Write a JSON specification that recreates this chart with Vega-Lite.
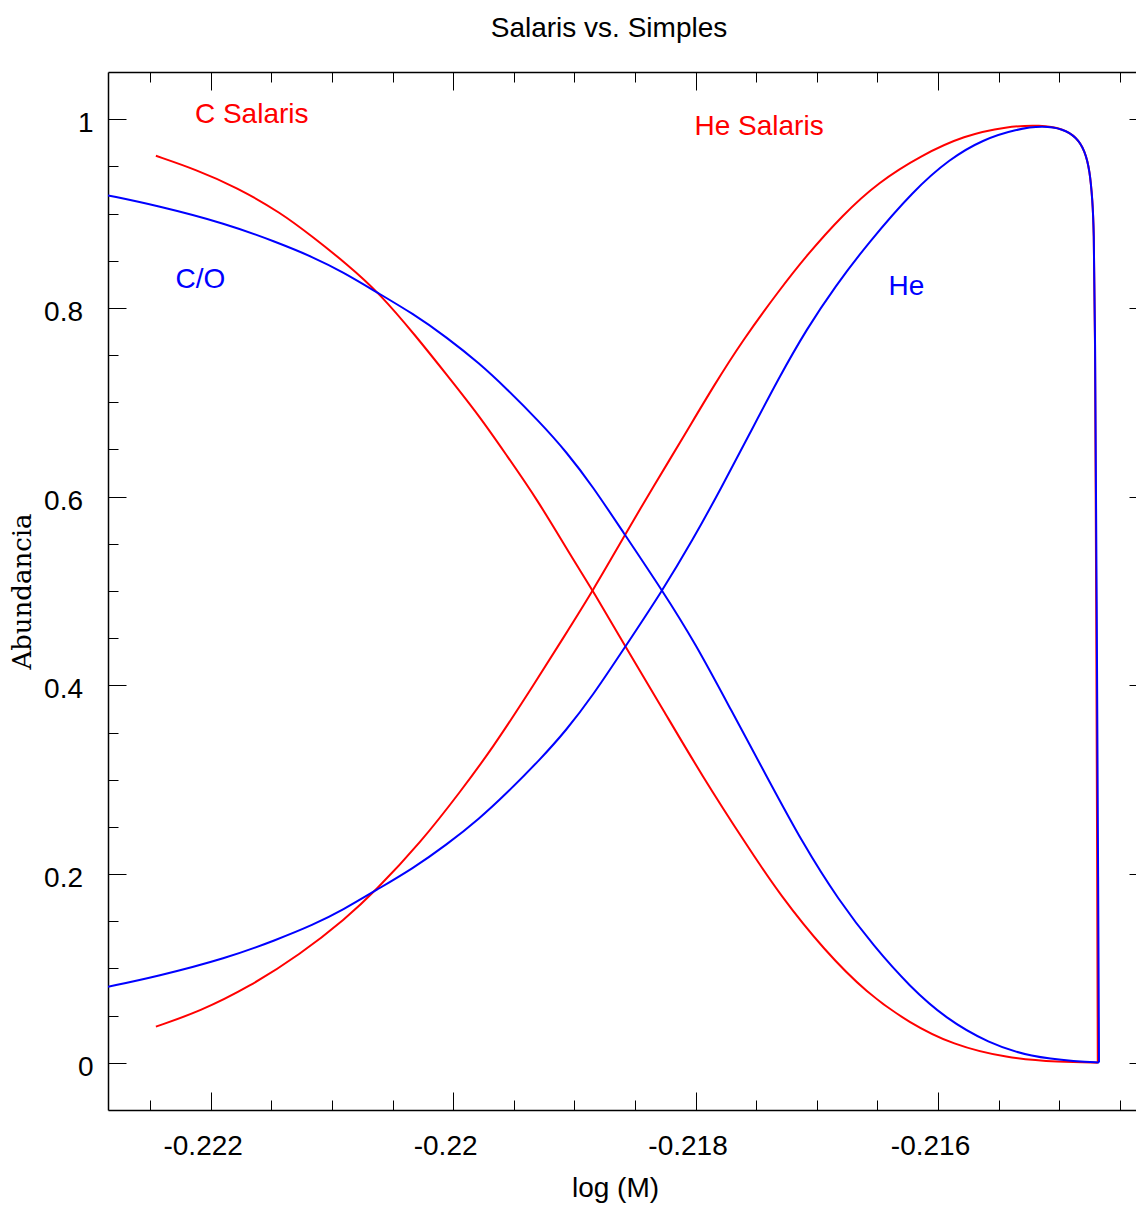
{
  "$schema": "https://vega.github.io/schema/vega-lite/v6.json",
  "width": 1039,
  "height": 1038,
  "autosize": {"type": "none"},
  "padding": {"left": 108, "top": 72, "right": -11, "bottom": 95},
  "background": "white",
  "config": {"view": {"stroke": null}, "font": "Liberation Sans"},
  "title": {"text": "Salaris vs. Simples", "fontSize": 28, "fontWeight": "normal", "font": "Liberation Sans", "color": "black", "anchor": "middle", "dx": -18.5, "offset": 7, "baseline": "alphabetic"},
  "datasets": {
    "curves": [
      {"s": "C Salaris", "m": "Salaris", "x": -0.222452, "y": 0.9612},
      {"s": "C Salaris", "m": "Salaris", "x": -0.222118, "y": 0.9464},
      {"s": "C Salaris", "m": "Salaris", "x": -0.221788, "y": 0.9280},
      {"s": "C Salaris", "m": "Salaris", "x": -0.221417, "y": 0.9005},
      {"s": "C Salaris", "m": "Salaris", "x": -0.221156, "y": 0.8750},
      {"s": "C Salaris", "m": "Salaris", "x": -0.220880, "y": 0.8469},
      {"s": "C Salaris", "m": "Salaris", "x": -0.220606, "y": 0.8155},
      {"s": "C Salaris", "m": "Salaris", "x": -0.220303, "y": 0.7695},
      {"s": "C Salaris", "m": "Salaris", "x": -0.220055, "y": 0.7295},
      {"s": "C Salaris", "m": "Salaris", "x": -0.219781, "y": 0.6850},
      {"s": "C Salaris", "m": "Salaris", "x": -0.219560, "y": 0.6440},
      {"s": "C Salaris", "m": "Salaris", "x": -0.219313, "y": 0.5985},
      {"s": "C Salaris", "m": "Salaris", "x": -0.219011, "y": 0.5335},
      {"s": "C Salaris", "m": "Salaris", "x": -0.218844, "y": 0.4998},
      {"s": "C Salaris", "m": "Salaris", "x": -0.218575, "y": 0.4402},
      {"s": "C Salaris", "m": "Salaris", "x": -0.218266, "y": 0.3738},
      {"s": "C Salaris", "m": "Salaris", "x": -0.217942, "y": 0.3032},
      {"s": "C Salaris", "m": "Salaris", "x": -0.217589, "y": 0.2327},
      {"s": "C Salaris", "m": "Salaris", "x": -0.217294, "y": 0.1761},
      {"s": "C Salaris", "m": "Salaris", "x": -0.216940, "y": 0.1197},
      {"s": "C Salaris", "m": "Salaris", "x": -0.216587, "y": 0.0738},
      {"s": "C Salaris", "m": "Salaris", "x": -0.216233, "y": 0.0420},
      {"s": "C Salaris", "m": "Salaris", "x": -0.215879, "y": 0.0191},
      {"s": "C Salaris", "m": "Salaris", "x": -0.215438, "y": 0.0050},
      {"s": "C Salaris", "m": "Salaris", "x": -0.214996, "y": 0.0007},
      {"s": "C Salaris", "m": "Salaris", "x": -0.214682, "y": 0.0002},
      {"s": "He Salaris", "m": "Salaris", "x": -0.222452, "y": 0.0384},
      {"s": "He Salaris", "m": "Salaris", "x": -0.222091, "y": 0.0543},
      {"s": "He Salaris", "m": "Salaris", "x": -0.221678, "y": 0.0808},
      {"s": "He Salaris", "m": "Salaris", "x": -0.221266, "y": 0.1144},
      {"s": "He Salaris", "m": "Salaris", "x": -0.220883, "y": 0.1532},
      {"s": "He Salaris", "m": "Salaris", "x": -0.220647, "y": 0.1814},
      {"s": "He Salaris", "m": "Salaris", "x": -0.220264, "y": 0.2340},
      {"s": "He Salaris", "m": "Salaris", "x": -0.219940, "y": 0.2874},
      {"s": "He Salaris", "m": "Salaris", "x": -0.219674, "y": 0.3337},
      {"s": "He Salaris", "m": "Salaris", "x": -0.219380, "y": 0.3915},
      {"s": "He Salaris", "m": "Salaris", "x": -0.219085, "y": 0.4516},
      {"s": "He Salaris", "m": "Salaris", "x": -0.218844, "y": 0.5009},
      {"s": "He Salaris", "m": "Salaris", "x": -0.218584, "y": 0.5591},
      {"s": "He Salaris", "m": "Salaris", "x": -0.218349, "y": 0.6103},
      {"s": "He Salaris", "m": "Salaris", "x": -0.218084, "y": 0.6668},
      {"s": "He Salaris", "m": "Salaris", "x": -0.217848, "y": 0.7180},
      {"s": "He Salaris", "m": "Salaris", "x": -0.217612, "y": 0.7656},
      {"s": "He Salaris", "m": "Salaris", "x": -0.217317, "y": 0.8175},
      {"s": "He Salaris", "m": "Salaris", "x": -0.217082, "y": 0.8560},
      {"s": "He Salaris", "m": "Salaris", "x": -0.216787, "y": 0.8985},
      {"s": "He Salaris", "m": "Salaris", "x": -0.216492, "y": 0.9332},
      {"s": "He Salaris", "m": "Salaris", "x": -0.216139, "y": 0.9616},
      {"s": "He Salaris", "m": "Salaris", "x": -0.215785, "y": 0.9827},
      {"s": "He Salaris", "m": "Salaris", "x": -0.215432, "y": 0.9923},
      {"s": "He Salaris", "m": "Salaris", "x": -0.215152, "y": 0.9939},
      {"s": "He Salaris", "m": "Salaris", "x": -0.214969, "y": 0.9898},
      {"s": "He Salaris", "m": "Salaris", "x": -0.214858, "y": 0.9809},
      {"s": "He Salaris", "m": "Salaris", "x": -0.214789, "y": 0.9669},
      {"s": "He Salaris", "m": "Salaris", "x": -0.214748, "y": 0.9457},
      {"s": "He Salaris", "m": "Salaris", "x": -0.214726, "y": 0.9139},
      {"s": "He Salaris", "m": "Salaris", "x": -0.214715, "y": 0.8856},
      {"s": "He Salaris", "m": "Salaris", "x": -0.214705, "y": 0.7974},
      {"s": "He Salaris", "m": "Salaris", "x": -0.214695, "y": 0.4903},
      {"s": "He Salaris", "m": "Salaris", "x": -0.214686, "y": 0.1726},
      {"s": "He Salaris", "m": "Salaris", "x": -0.214682, "y": 0.0002},
      {"s": "C/O", "m": "Simples", "x": -0.222847, "y": 0.9192},
      {"s": "C/O", "m": "Simples", "x": -0.222448, "y": 0.9086},
      {"s": "C/O", "m": "Simples", "x": -0.221870, "y": 0.8892},
      {"s": "C/O", "m": "Simples", "x": -0.221458, "y": 0.8697},
      {"s": "C/O", "m": "Simples", "x": -0.221156, "y": 0.8539},
      {"s": "C/O", "m": "Simples", "x": -0.220909, "y": 0.8380},
      {"s": "C/O", "m": "Simples", "x": -0.220633, "y": 0.8168},
      {"s": "C/O", "m": "Simples", "x": -0.220331, "y": 0.7939},
      {"s": "C/O", "m": "Simples", "x": -0.220055, "y": 0.7691},
      {"s": "C/O", "m": "Simples", "x": -0.219781, "y": 0.7410},
      {"s": "C/O", "m": "Simples", "x": -0.219560, "y": 0.7145},
      {"s": "C/O", "m": "Simples", "x": -0.219286, "y": 0.6791},
      {"s": "C/O", "m": "Simples", "x": -0.219065, "y": 0.6474},
      {"s": "C/O", "m": "Simples", "x": -0.218846, "y": 0.6103},
      {"s": "C/O", "m": "Simples", "x": -0.218626, "y": 0.5679},
      {"s": "C/O", "m": "Simples", "x": -0.218272, "y": 0.5002},
      {"s": "C/O", "m": "Simples", "x": -0.218001, "y": 0.4444},
      {"s": "C/O", "m": "Simples", "x": -0.217707, "y": 0.3738},
      {"s": "C/O", "m": "Simples", "x": -0.217412, "y": 0.3032},
      {"s": "C/O", "m": "Simples", "x": -0.217117, "y": 0.2327},
      {"s": "C/O", "m": "Simples", "x": -0.216822, "y": 0.1726},
      {"s": "C/O", "m": "Simples", "x": -0.216528, "y": 0.1232},
      {"s": "C/O", "m": "Simples", "x": -0.216233, "y": 0.0808},
      {"s": "C/O", "m": "Simples", "x": -0.215939, "y": 0.0473},
      {"s": "C/O", "m": "Simples", "x": -0.215585, "y": 0.0209},
      {"s": "C/O", "m": "Simples", "x": -0.215232, "y": 0.0060},
      {"s": "C/O", "m": "Simples", "x": -0.214848, "y": 0.0014},
      {"s": "C/O", "m": "Simples", "x": -0.214672, "y": 0.0003},
      {"s": "He", "m": "Simples", "x": -0.222847, "y": 0.0806},
      {"s": "He", "m": "Simples", "x": -0.222448, "y": 0.0914},
      {"s": "He", "m": "Simples", "x": -0.221870, "y": 0.1108},
      {"s": "He", "m": "Simples", "x": -0.221458, "y": 0.1303},
      {"s": "He", "m": "Simples", "x": -0.221156, "y": 0.1461},
      {"s": "He", "m": "Simples", "x": -0.220909, "y": 0.1620},
      {"s": "He", "m": "Simples", "x": -0.220633, "y": 0.1832},
      {"s": "He", "m": "Simples", "x": -0.220331, "y": 0.2061},
      {"s": "He", "m": "Simples", "x": -0.220055, "y": 0.2309},
      {"s": "He", "m": "Simples", "x": -0.219781, "y": 0.2590},
      {"s": "He", "m": "Simples", "x": -0.219560, "y": 0.2855},
      {"s": "He", "m": "Simples", "x": -0.219286, "y": 0.3209},
      {"s": "He", "m": "Simples", "x": -0.219065, "y": 0.3526},
      {"s": "He", "m": "Simples", "x": -0.218846, "y": 0.3897},
      {"s": "He", "m": "Simples", "x": -0.218626, "y": 0.4321},
      {"s": "He", "m": "Simples", "x": -0.218273, "y": 0.5004},
      {"s": "He", "m": "Simples", "x": -0.218024, "y": 0.5540},
      {"s": "He", "m": "Simples", "x": -0.217789, "y": 0.6090},
      {"s": "He", "m": "Simples", "x": -0.217553, "y": 0.6668},
      {"s": "He", "m": "Simples", "x": -0.217317, "y": 0.7250},
      {"s": "He", "m": "Simples", "x": -0.217082, "y": 0.7780},
      {"s": "He", "m": "Simples", "x": -0.216846, "y": 0.8232},
      {"s": "He", "m": "Simples", "x": -0.216581, "y": 0.8680},
      {"s": "He", "m": "Simples", "x": -0.216198, "y": 0.9250},
      {"s": "He", "m": "Simples", "x": -0.215903, "y": 0.9580},
      {"s": "He", "m": "Simples", "x": -0.215629, "y": 0.9785},
      {"s": "He", "m": "Simples", "x": -0.215353, "y": 0.9895},
      {"s": "He", "m": "Simples", "x": -0.215134, "y": 0.9930},
      {"s": "He", "m": "Simples", "x": -0.214969, "y": 0.9898},
      {"s": "He", "m": "Simples", "x": -0.214858, "y": 0.9809},
      {"s": "He", "m": "Simples", "x": -0.214789, "y": 0.9669},
      {"s": "He", "m": "Simples", "x": -0.214748, "y": 0.9457},
      {"s": "He", "m": "Simples", "x": -0.214726, "y": 0.9139},
      {"s": "He", "m": "Simples", "x": -0.214715, "y": 0.8856},
      {"s": "He", "m": "Simples", "x": -0.214705, "y": 0.7974},
      {"s": "He", "m": "Simples", "x": -0.214691, "y": 0.4903},
      {"s": "He", "m": "Simples", "x": -0.214678, "y": 0.1726},
      {"s": "He", "m": "Simples", "x": -0.214672, "y": 0.0003}
    ],
    "labels": [
      {"t": "C Salaris", "m": "Salaris", "x": -0.222130, "y": 0.9957},
      {"t": "He Salaris", "m": "Salaris", "x": -0.218009, "y": 0.9833},
      {"t": "C/O", "m": "Simples", "x": -0.222290, "y": 0.8208},
      {"t": "He", "m": "Simples", "x": -0.216408, "y": 0.8137}
    ]
  },
  "layer": [
    {
      "data": {"name": "curves"},
      "transform": [{"filter": "datum.m === 'Salaris'"}],
      "mark": {"type": "line", "strokeWidth": 2, "interpolate": "basis", "clip": true},
      "encoding": {
        "x": {
          "field": "x", "type": "quantitative",
          "scale": {"domain": [-0.222847, -0.214276], "nice": false, "zero": false},
          "axis": {
            "orient": "bottom",
            "values": [-0.2225, -0.222, -0.2215, -0.221, -0.2205, -0.22, -0.2195, -0.219, -0.2185, -0.218, -0.2175, -0.217, -0.2165, -0.216, -0.2155, -0.215, -0.2145],
            "tickSize": {"condition": {"test": "round(datum.value*2000) % 4 === 0", "value": -18}, "value": -10},
            "tickColor": "black", "tickWidth": 1,
            "domainColor": "black", "domainWidth": 1.5,
            "grid": false,
            "labelExpr": "round(datum.value*2000) % 4 === 0 ? '' + datum.value : ''",
            "labelFont": "Liberation Sans", "labelFontSize": 28, "labelColor": "black",
            "labelPadding": 40, "labelOffset": -8,
            "labelFlush": false, "labelOverlap": false, "labelBound": false,
            "title": "log (M)", "titleFont": "Liberation Sans", "titleFontSize": 28, "titleFontWeight": "normal", "titleColor": "black",
            "titleX": 507, "titleY": 86.5, "titleAlign": "center", "titleBaseline": "alphabetic"
          }
        },
        "y": {
          "field": "y", "type": "quantitative",
          "scale": {"domain": [-0.05, 1.05], "nice": false, "zero": false},
          "axis": {
            "orient": "left",
            "values": [0, 0.05, 0.1, 0.15, 0.2, 0.25, 0.3, 0.35, 0.4, 0.45, 0.5, 0.55, 0.6, 0.65, 0.7, 0.75, 0.8, 0.85, 0.9, 0.95, 1],
            "tickSize": {"condition": {"test": "round(datum.value*20) % 4 === 0", "value": -18}, "value": -10},
            "tickColor": "black", "tickWidth": 1,
            "domainColor": "black", "domainWidth": 1.5,
            "grid": false,
            "labelExpr": "round(datum.value*20) % 4 === 0 ? '' + datum.value : ''",
            "labelFont": "Liberation Sans", "labelFontSize": 28, "labelColor": "black",
            "labelAlign": "right", "labelBaseline": "middle",
            "labelPadding": {"condition": {"test": "datum.value === 0 || datum.value === 1", "value": 33}, "value": 43.5},
            "labelOffset": 4.5,
            "labelFlush": false, "labelOverlap": false, "labelBound": false,
            "title": "Abundancia", "titleFont": "DejaVu Serif", "titleFontSize": 26, "titleFontWeight": "normal", "titleColor": "black",
            "titleAngle": 270, "titleX": -78, "titleY": 519, "titleAlign": "center", "titleBaseline": "alphabetic"
          }
        },
        "color": {"field": "m", "type": "nominal", "scale": {"domain": ["Salaris", "Simples"], "range": ["#ff0000", "#0000ff"]}, "legend": null},
        "detail": {"field": "s"}
      }
    },
    {
      "data": {"name": "curves"},
      "transform": [{"filter": "datum.m === 'Simples'"}],
      "mark": {"type": "line", "strokeWidth": 2, "interpolate": "basis", "clip": true},
      "encoding": {
        "x": {
          "field": "x", "type": "quantitative",
          "axis": {
            "orient": "top",
            "values": [-0.2225, -0.222, -0.2215, -0.221, -0.2205, -0.22, -0.2195, -0.219, -0.2185, -0.218, -0.2175, -0.217, -0.2165, -0.216, -0.2155, -0.215, -0.2145],
            "tickSize": {"condition": {"test": "round(datum.value*2000) % 4 === 0", "value": -18}, "value": -10},
            "tickColor": "black", "tickWidth": 1,
            "domainColor": "black", "domainWidth": 1.5,
            "grid": false, "labels": false, "title": null
          }
        },
        "y": {
          "field": "y", "type": "quantitative",
          "axis": {
            "orient": "right",
            "values": [0, 0.05, 0.1, 0.15, 0.2, 0.25, 0.3, 0.35, 0.4, 0.45, 0.5, 0.55, 0.6, 0.65, 0.7, 0.75, 0.8, 0.85, 0.9, 0.95, 1],
            "tickSize": {"condition": {"test": "round(datum.value*20) % 4 === 0", "value": -18}, "value": -10},
            "tickColor": "black", "tickWidth": 1,
            "domainColor": "black", "domainWidth": 1.5,
            "grid": false, "labels": false, "title": null
          }
        },
        "color": {"field": "m", "type": "nominal", "legend": null},
        "detail": {"field": "s"}
      }
    },
    {
      "data": {"name": "labels"},
      "mark": {"type": "text", "align": "left", "baseline": "alphabetic", "fontSize": 28, "font": "Liberation Sans"},
      "encoding": {
        "x": {"field": "x", "type": "quantitative", "axis": null},
        "y": {"field": "y", "type": "quantitative", "axis": null},
        "text": {"field": "t"},
        "color": {"field": "m", "type": "nominal", "legend": null}
      }
    }
  ],
  "resolve": {"axis": {"x": "independent", "y": "independent"}}
}
